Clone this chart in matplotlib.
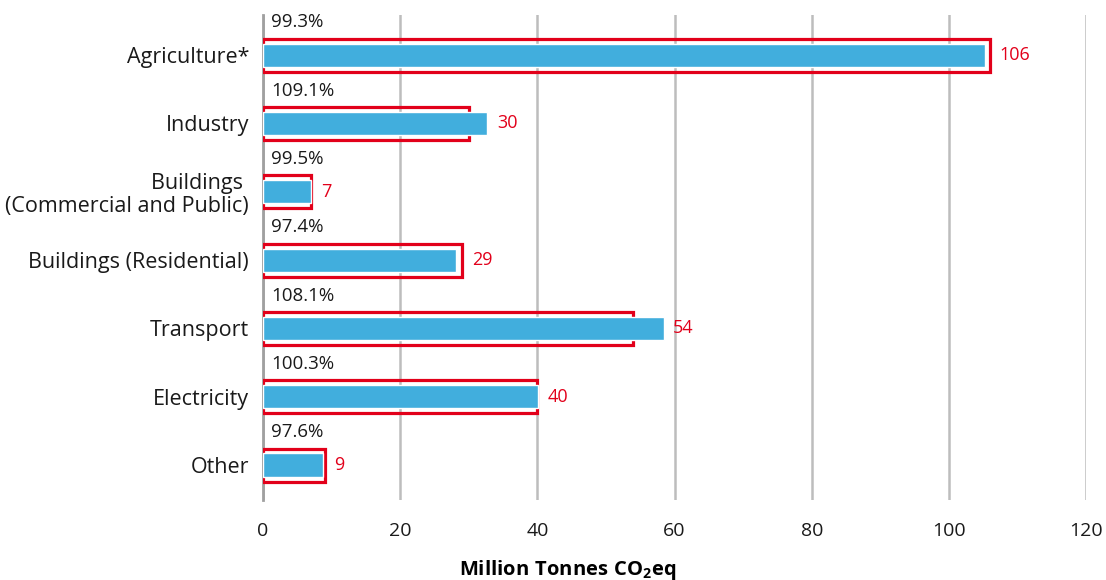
import numpy as np
import matplotlib
matplotlib.use("Agg")
import matplotlib.pyplot as plt

plt.rcParams["font.family"] = ["Open Sans", "DejaVu Sans"]
plt.rcParams["mathtext.fontset"] = "custom"
plt.rcParams["mathtext.rm"] = "Open Sans:bold"
plt.rcParams["mathtext.default"] = "rm"

categories = ["Agriculture*", "Industry", "Buildings \n(Commercial and Public)",
              "Buildings (Residential)", "Transport", "Electricity", "Other"]
targets = [106, 30, 7, 29, 54, 40, 9]
actual = [105.3, 32.7, 7.0, 28.2, 58.4, 40.1, 8.8]
pct_labels = ["99.3%", "109.1%", "99.5%", "97.4%", "108.1%", "100.3%", "97.6%"]

blue = "#41aedd"
red = "#e2001a"
grey = "#bdbdbd"

fig = plt.figure(figsize=(11.06, 5.8), dpi=100)
ax = fig.add_axes([0.2378, 0.138, 0.982 - 0.2378, 0.974 - 0.138])

y = np.arange(len(categories))
ax.barh(y, targets, height=0.48, facecolor="none", edgecolor=red, linewidth=2.3, zorder=3)
ax.barh(y, actual, height=0.34, color=blue, edgecolor="white", linewidth=1.0, zorder=4)

for i in range(len(categories)):
    ax.annotate(pct_labels[i], (0, y[i] - 0.48), xytext=(6, 0), textcoords="offset points",
                ha="left", va="center", fontsize=13.5, color="#1a1a1a")
    ax.annotate(str(targets[i]), (max(targets[i], actual[i]), y[i]), xytext=(7, 0),
                textcoords="offset points", ha="left", va="center", fontsize=13, color=red)

ax.set_xlim(0, 120)
ax.set_ylim(6.51, -0.586)
ax.set_xticks(np.arange(0, 121, 20))
ax.set_yticks(y)
ax.set_yticklabels(categories, fontsize=15.5, color="#1a1a1a", linespacing=1.1)
ax.tick_params(axis="both", length=0)
ax.tick_params(axis="y", pad=10)
ax.tick_params(axis="x", labelsize=14, labelcolor="#1a1a1a", pad=16)
ax.xaxis.grid(True, color=grey, linewidth=1.8, zorder=0)
ax.set_axisbelow(True)
for s in ["top", "right", "bottom"]:
    ax.spines[s].set_visible(False)
ax.spines["left"].set_color("#a0a0a0")
ax.spines["left"].set_linewidth(2)

ax.set_xlabel(r"$\mathrm{Million\ Tonnes\ CO_2eq}$", fontsize=14.5, labelpad=12)
ax.xaxis.set_label_coords((568 - 263) / (1086 - 263), -0.12)

fig.savefig("out.png", dpi=100)
